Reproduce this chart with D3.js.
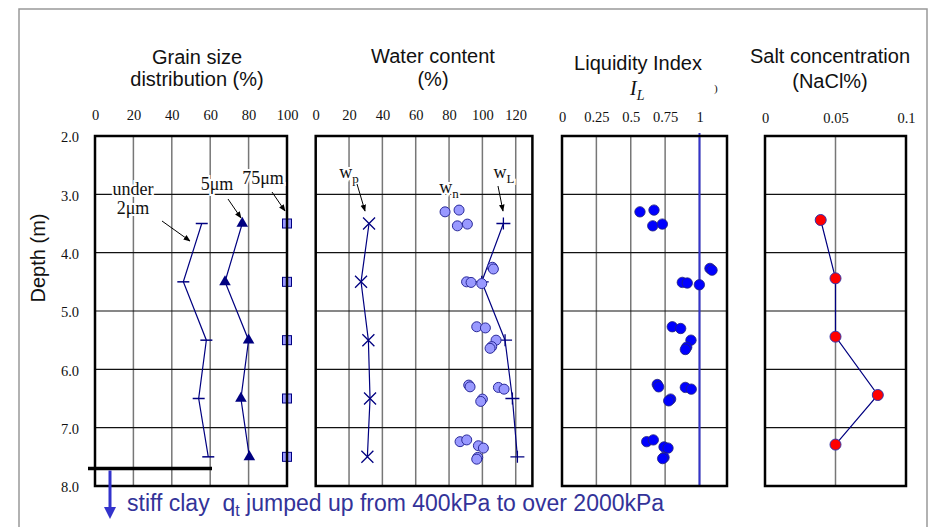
<!DOCTYPE html>
<html>
<head>
<meta charset="utf-8">
<script src="https://cdn.jsdelivr.net/npm/d3@7"></script>
<style>
  body { margin: 0; background: #fff; }
  text { font-family: "Liberation Sans", Arial, sans-serif; }
</style>
</head>
<body>
<svg id="chart" width="931" height="527"></svg>
<script>
// depth axis
const depthTicks = [2, 3, 4, 5, 6, 7, 8];
const sampleDepths = [3.5, 4.5, 5.5, 6.5, 7.5];

// grain size distribution (%)
const gsTicks = [0, 20, 40, 60, 80, 100];
const under2um = [55.6, 46, 58, 54, 59];
const under5um = [76.7, 67.7, 80, 76, 80.4];
const under75um = [100, 100, 100, 100, 100];

// water content (%)
const wcTicks = [0, 20, 40, 60, 80, 100, 120];
const wpValues = [32, 27.2, 31.6, 32.6, 31];
const wlValues = [112.6, 99.6, 113.6, 118, 121];
const wnDepths = [3.30, 3.27, 3.54, 3.51, 4.25, 4.28, 4.50, 4.51, 4.53, 5.27, 5.29, 5.50, 5.61, 5.64,
                  6.27, 6.30, 6.31, 6.34, 6.51, 6.55, 7.24, 7.21, 7.31, 7.35, 7.51, 7.54];
const wnValues = [77.6, 86, 85, 91, 106, 106.6, 90.5, 93.2, 99.6, 96.6, 101.8, 108.2, 105.6, 104.6,
                  91.8, 92.6, 109.6, 113, 100, 99, 86.6, 90.6, 97.6, 100.6, 97.2, 96.6];

// liquidity index
const liTicks = [0, 0.25, 0.5, 0.75, 1];
const liDepths = [3.30, 3.27, 3.54, 3.51, 4.27, 4.30, 4.51, 4.52, 4.55, 5.27, 5.30, 5.50, 5.62, 5.66,
                  6.26, 6.30, 6.31, 6.34, 6.51, 6.54, 7.24, 7.21, 7.33, 7.35, 7.51, 7.53];
const liValues = [0.567, 0.669, 0.66, 0.73, 1.076, 1.091, 0.875, 0.911, 0.999, 0.802, 0.863, 0.938, 0.907, 0.897,
                  0.693, 0.703, 0.897, 0.94, 0.79, 0.776, 0.616, 0.664, 0.742, 0.771, 0.742, 0.732];

// salt concentration (NaCl%)
const saltTicks = [0, 0.05, 0.1];
const saltDepths = [3.44, 4.44, 5.44, 6.44, 7.29];
const saltValues = [0.0395, 0.05, 0.05, 0.08, 0.05];

const navy = "#000080";
const blue = "#3333cc";
const serif = "'Liberation Serif', 'Times New Roman', serif";

const svg = d3.select("#chart");

// outer frame
svg.append("path")
  .attr("d", "M19,527V9H927V527")
  .attr("fill", "none").attr("stroke", "#999").attr("stroke-width", 1.5);

const defs = svg.append("defs");
defs.append("marker").attr("id", "arr")
  .attr("viewBox", "0 0 10 10").attr("refX", 9).attr("refY", 5)
  .attr("markerWidth", 7).attr("markerHeight", 7).attr("orient", "auto")
  .append("path").attr("d", "M0,1L10,5L0,9Z").attr("fill", "#000");

const y = d3.scaleLinear().domain([2, 8]).range([136, 486]);

const panels = [
  { x0: 95, x1: 287, domain: [0, 100], ticks: gsTicks, title: ["Grain size", "distribution (%)"], cx: 197, ty: [64, 86], tky: 120 },
  { x0: 315.7, x1: 532.4, domain: [0, 130], ticks: wcTicks, title: ["Water content", "(%)"], cx: 433, ty: [63, 86], tky: 120 },
  { x0: 562, x1: 727, domain: [0, 1.2], ticks: liTicks, title: ["Liquidity Index"], cx: 638, ty: [70], tky: 122 },
  { x0: 765, x1: 906, domain: [0, 0.1], ticks: saltTicks, title: ["Salt concentration", "(NaCl%)"], cx: 830, ty: [63, 88], tky: 123 }
];

panels.forEach(p => {
  p.x = d3.scaleLinear().domain(p.domain).range([p.x0, p.x1]);
  const g = svg.append("g");
  p.g = g;

  // vertical grid
  g.selectAll(".vg").data(p.ticks.filter(t => t > p.domain[0] && t < p.domain[1]))
    .enter().append("line")
    .attr("x1", d => p.x(d)).attr("x2", d => p.x(d))
    .attr("y1", y(2)).attr("y2", y(8))
    .attr("stroke", "#777").attr("stroke-width", 1.5);

  // horizontal grid
  g.selectAll(".hg").data(depthTicks.slice(1, -1))
    .enter().append("line")
    .attr("x1", p.x0).attr("x2", p.x1)
    .attr("y1", d => y(d)).attr("y2", d => y(d))
    .attr("stroke", "#111").attr("stroke-width", 1.2);

  // top tick labels
  const ax = g.append("g")
    .attr("transform", `translate(0,${p.tky})`)
    .call(d3.axisTop(p.x).tickValues(p.ticks).tickSize(0).tickPadding(0).tickFormat(d => String(d)));
  ax.select(".domain").remove();
  ax.attr("font-family", null).attr("font-size", null);
  ax.selectAll("text").style("font-family", serif)
    .attr("font-size", 14.5).attr("fill", "#111");

  // titles
  p.title.forEach((t, i) => {
    g.append("text").attr("x", p.cx).attr("y", p.ty[i])
      .attr("text-anchor", "middle").attr("font-size", 20).attr("fill", "#111").text(t);
  });
});

// depth axis on the first panel
const yAx = svg.append("g")
  .attr("transform", `translate(${panels[0].x0},0)`)
  .call(d3.axisLeft(y).tickValues(depthTicks).tickSize(0).tickPadding(16).tickFormat(d3.format(".1f")));
yAx.select(".domain").remove();
yAx.attr("font-family", null).attr("font-size", null);
yAx.selectAll("text").style("font-family", serif)
  .attr("font-size", 14.5).attr("fill", "#111").attr("dy", "0.4em");

svg.append("text")
  .attr("transform", "translate(45,258) rotate(-90)")
  .attr("text-anchor", "middle").attr("font-size", 20).attr("fill", "#111")
  .text("Depth (m)");

// ---- panel 1: grain size
const p1 = panels[0];
const line1 = d3.line().x(d => p1.x(d[0])).y(d => y(d[1]));

const d2 = d3.zip(under2um, sampleDepths);
p1.g.append("path").attr("d", line1(d2)).attr("fill", "none").attr("stroke", navy).attr("stroke-width", 1.2);
p1.g.selectAll(".m2").data(d2).enter().append("line")
  .attr("x1", d => p1.x(d[0]) - 6).attr("x2", d => p1.x(d[0]) + 6)
  .attr("y1", d => y(d[1])).attr("y2", d => y(d[1]))
  .attr("stroke", navy).attr("stroke-width", 1.5);

const d5 = d3.zip(under5um, sampleDepths);
p1.g.append("path").attr("d", line1(d5)).attr("fill", "none").attr("stroke", navy).attr("stroke-width", 1.2);
p1.g.selectAll(".m5").data(d5).enter().append("path")
  .attr("transform", d => `translate(${p1.x(d[0])},${y(d[1])})`)
  .attr("d", d3.symbol(d3.symbolTriangle, 58))
  .attr("fill", navy);

const d75 = d3.zip(under75um, sampleDepths);
p1.g.selectAll(".m75").data(d75).enter().append("rect")
  .attr("x", d => p1.x(d[0]) - 4.5).attr("y", d => y(d[1]) - 4.5)
  .attr("width", 9).attr("height", 9)
  .attr("fill", "#9999ff").attr("stroke", navy).attr("stroke-width", 1);

// ---- panel 2: water content
const p2 = panels[1];
const line2 = d3.line().x(d => p2.x(d[0])).y(d => y(d[1]));
const dwp = d3.zip(wpValues, sampleDepths);
const dwl = d3.zip(wlValues, sampleDepths);
p2.g.append("path").attr("d", line2(dwp)).attr("fill", "none").attr("stroke", navy).attr("stroke-width", 1.2);
p2.g.append("path").attr("d", line2(dwl)).attr("fill", "none").attr("stroke", navy).attr("stroke-width", 1.2);
p2.g.selectAll(".mwp").data(dwp).enter().append("path")
  .attr("transform", d => `translate(${p2.x(d[0])},${y(d[1])})`)
  .attr("d", "M-6,-6L6,6M-6,6L6,-6")
  .attr("stroke", navy).attr("stroke-width", 1.3);
p2.g.selectAll(".mwl").data(dwl).enter().append("path")
  .attr("transform", d => `translate(${p2.x(d[0])},${y(d[1])})`)
  .attr("d", "M-7,0H7M0,-6V6")
  .attr("stroke", navy).attr("stroke-width", 1.3);
p2.g.selectAll(".mwn").data(d3.zip(wnValues, wnDepths)).enter().append("circle")
  .attr("cx", d => p2.x(d[0])).attr("cy", d => y(d[1])).attr("r", 5)
  .attr("fill", "#9999ff").attr("stroke", "#2a2a9a").attr("stroke-width", 1);

// ---- panel 3: liquidity index
const p3 = panels[2];
p3.g.append("line")
  .attr("x1", p3.x(1)).attr("x2", p3.x(1)).attr("y1", 133).attr("y2", y(8))
  .attr("stroke", blue).attr("stroke-width", 2);
p3.g.selectAll(".mli").data(d3.zip(liValues, liDepths)).enter().append("circle")
  .attr("cx", d => p3.x(d[0])).attr("cy", d => y(d[1])).attr("r", 5.2)
  .attr("fill", "#0000ff").attr("stroke", "#22227a").attr("stroke-width", 0.8);
const il = p3.g.append("text").attr("x", 630).attr("y", 95)
  .style("font-family", serif)
  .attr("font-size", 20).attr("font-style", "italic").attr("fill", "#111");
il.append("tspan").text("I");
il.append("tspan").attr("dy", 5).attr("font-size", 14).text("L");
p3.g.append("text").attr("x", 714).attr("y", 92).style("font-family", serif)
  .attr("font-size", 11).attr("fill", "#111").text(")");

// ---- panel 4: salt
const p4 = panels[3];
const ds = d3.zip(saltValues, saltDepths);
p4.g.append("path").attr("d", d3.line().x(d => p4.x(d[0])).y(d => y(d[1]))(ds))
  .attr("fill", "none").attr("stroke", navy).attr("stroke-width", 1.2);
p4.g.selectAll(".ms").data(ds).enter().append("circle")
  .attr("cx", d => p4.x(d[0])).attr("cy", d => y(d[1])).attr("r", 5.5)
  .attr("fill", "#ff0000").attr("stroke", "#3333aa").attr("stroke-width", 1);

// panel boxes on top
panels.forEach(p => {
  svg.append("rect")
    .attr("x", p.x0).attr("y", y(2))
    .attr("width", p.x1 - p.x0).attr("height", y(8) - y(2))
    .attr("fill", "none").attr("stroke", "#000").attr("stroke-width", 2.5);
});

// ---- annotations
function label(x, yy, main, sub) {
  const t = svg.append("text").attr("x", x).attr("y", yy)
    .style("font-family", serif)
    .attr("text-anchor", "middle").attr("font-size", 18).attr("fill", "#111")
    .attr("stroke", "#fff").attr("stroke-width", 4).attr("paint-order", "stroke")
    .text(main);
  if (sub) t.append("tspan").attr("dy", 5).attr("font-size", 13).text(sub);
  return t;
}
function arrow(xa, ya, xb, yb) {
  svg.append("line").attr("x1", xa).attr("y1", ya).attr("x2", xb).attr("y2", yb)
    .attr("stroke", "#000").attr("stroke-width", 1).attr("marker-end", "url(#arr)");
}

label(133, 195, "under");
label(133, 214, "2μm");
label(217, 190, "5μm");
label(263, 184, "75μm");
arrow(162, 221, 190, 241);
arrow(228, 199, 241, 218);
arrow(272, 192, 285, 211);

label(349, 178, "w", "p");
label(449, 193, "w", "n");
label(504, 178, "w", "L");
arrow(357, 184, 365, 211);
arrow(498, 186, 503, 211);

// ---- stiff clay marker
svg.append("line").attr("x1", 88).attr("x2", 212).attr("y1", y(7.7)).attr("y2", y(7.7))
  .attr("stroke", "#000").attr("stroke-width", 3.5);
svg.append("line").attr("x1", 110).attr("x2", 110).attr("y1", y(7.7) + 2).attr("y2", 508)
  .attr("stroke", blue).attr("stroke-width", 3);
svg.append("path").attr("d", "M104,507L116,507L110,519Z").attr("fill", blue);

const note = svg.append("text").attr("x", 127).attr("y", 511)
  .attr("font-size", 23).attr("fill", "#333399");
note.append("tspan").text("stiff clay\u00a0 q");
note.append("tspan").attr("dy", 5).attr("font-size", 16).text("t");
note.append("tspan").attr("dy", -5).text(" jumped up from 400kPa to over 2000kPa");
</script>
</body>
</html>
